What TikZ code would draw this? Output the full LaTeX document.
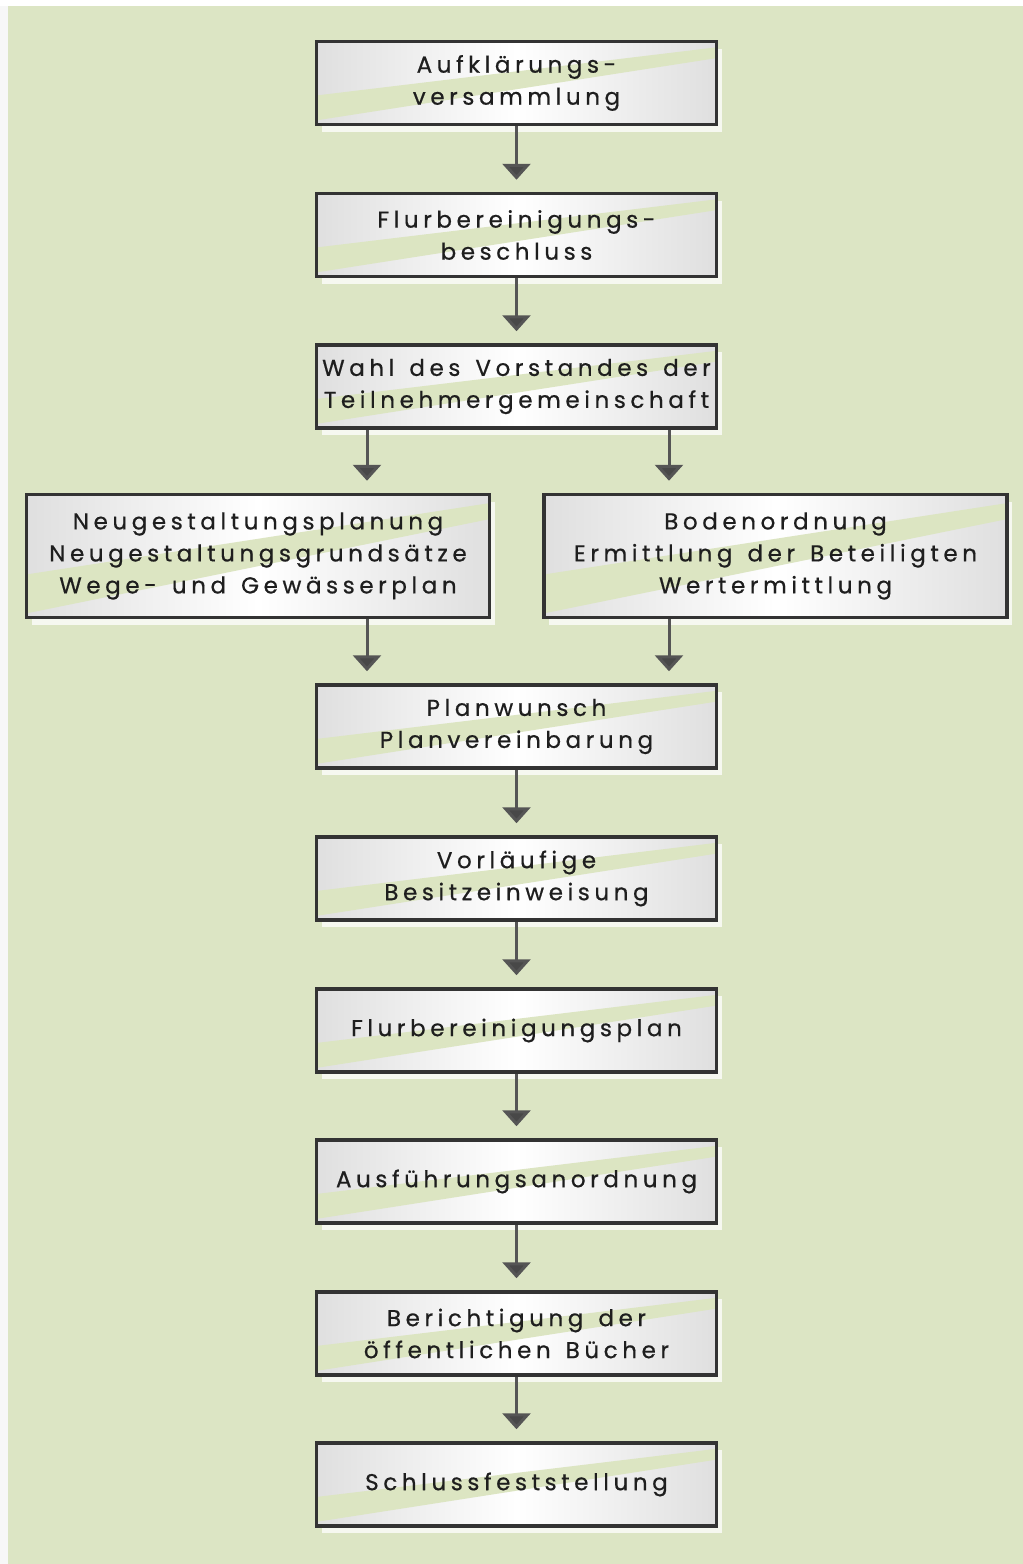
\documentclass[tikz,border=0pt]{standalone}
\usepackage{fontspec}
\setmainfont{Poppins}[LetterSpace=20,WordSpace=1.4,FakeBold=0.6]
\usetikzlibrary{arrows.meta,shadows,calc}
\definecolor{bggreen}{HTML}{DCE5C4}
\definecolor{bandgreen}{HTML}{DCE5C2}
\definecolor{boxline}{HTML}{333333}
\definecolor{arrline}{HTML}{555555}
\definecolor{txt}{HTML}{1E1E1E}
\tikzset{
  flowbox/.style={draw=boxline, line width=3.5pt, rectangle,
    minimum width=400pt, minimum height=83pt, align=center, inner sep=0pt,
    text=txt, font=\fontsize{23}{32}\selectfont,
    drop shadow={shadow xshift=5pt, shadow yshift=-7pt, fill=white, opacity=0.75},
    left color=gray!25, right color=gray!25, middle color=white,
    path picture={
      \fill[bandgreen]
        ($(path picture bounding box.south west)+(0,0.05*83pt)$) --
        ($(path picture bounding box.south west)!0.35!(path picture bounding box.north west)$) --
        ($(path picture bounding box.south east)!0.93!(path picture bounding box.north east)$) --
        ($(path picture bounding box.south east)!0.80!(path picture bounding box.north east)$) -- cycle;
    }},
  widebox/.style={flowbox, minimum width=463pt, minimum height=123pt},
  arr/.style={draw=arrline, line width=3pt,
    -{Triangle[width=28pt,length=16pt,fill=arrline!85!black]}, shorten >=12pt}
}
\begin{document}
\begin{tikzpicture}[x=1pt,y=-1pt]
\fill[white] (0,0) rectangle (1023,1564);
\fill[gray!6] (0,6) rectangle (8,1564);
\fill[bggreen] (8,6) rectangle (1023,1564);
\useasboundingbox (0,0) rectangle (1023,1564);

\node[flowbox] (b1) at (516.5,83) {Aufklärungs-\\versammlung};
\node[flowbox] (b2) at (516.5,235) {Flurbereinigungs-\\beschluss};
\node[flowbox] (b3) at (516.5,386.5) {Wahl des Vorstandes der\\Teilnehmergemeinschaft};
\node[widebox] (b4l) at (258,556) {Neugestaltungsplanung\\Neugestaltungsgrundsätze\\Wege- und Gewässerplan};
\node[widebox] (b4r) at (775.5,556) {Bodenordnung\\Ermittlung der Beteiligten\\Wertermittlung};
\node[flowbox] (b5) at (516.5,726.5) {Planwunsch\\Planvereinbarung};
\node[flowbox] (b6) at (516.5,878.5) {Vorläufige\\Besitzeinweisung};
\node[flowbox] (b7) at (516.5,1030.5) {Flurbereinigungsplan};
\node[flowbox] (b8) at (516.5,1181.5) {Ausführungsanordnung};
\node[flowbox] (b9) at (516.5,1333.5) {Berichtigung der\\öffentlichen Bücher};
\node[flowbox] (b10) at (516.5,1484.5) {Schlussfeststellung};

\coordinate (xl) at (367,0);
\coordinate (xr) at (669,0);

\draw[arr] (b1) -- (b2);
\draw[arr] (b2) -- (b3);
\draw[arr] (b3.south -| xl) -- (b4l.north -| xl);
\draw[arr] (b3.south -| xr) -- (b4r.north -| xr);
\draw[arr] (b4l.south -| xl) -- (b5.north -| xl);
\draw[arr] (b4r.south -| xr) -- (b5.north -| xr);
\draw[arr] (b5) -- (b6);
\draw[arr] (b6) -- (b7);
\draw[arr] (b7) -- (b8);
\draw[arr] (b8) -- (b9);
\draw[arr] (b9) -- (b10);
\end{tikzpicture}
\end{document}
